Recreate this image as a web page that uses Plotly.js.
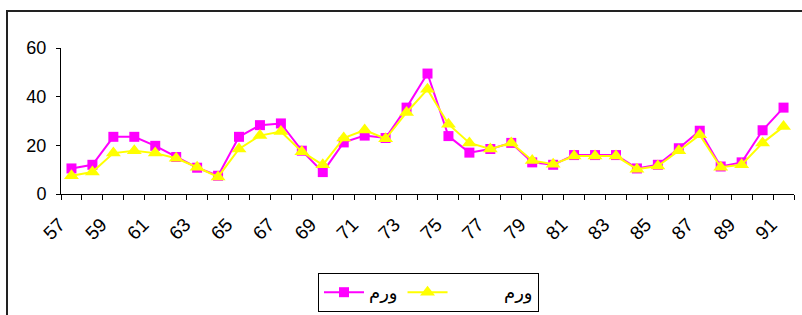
<!DOCTYPE html>
<html><head><meta charset="utf-8">
<script src="https://cdn.plot.ly/plotly-3.0.1.min.js"></script>
<style>
html,body{margin:0;padding:0;background:#fff;}
#wrap{position:relative;width:802px;height:315px;overflow:hidden;}
#chart{position:absolute;left:0;top:0;width:802px;height:315px;}
#frame{position:absolute;left:6px;top:10px;width:900px;height:400px;border:2px solid #222;box-sizing:border-box;pointer-events:none;}
</style></head>
<body>
<div id="wrap"><div id="chart"></div><div id="frame"></div></div>
<script>
const years = [57,58,59,60,61,62,63,64,65,66,67,68,69,70,71,72,73,74,75,76,77,78,79,80,81,82,83,84,85,86,87,88,89,90,91];
const seriesA = [10.5,12,23.5,23.5,19.8,15.2,10.8,7.5,23.5,28.3,29,17.8,9,21.2,24,23,35.5,49.5,23.8,17,18.5,21,13,12,16,16,16,10.5,12,18.8,26,11.3,13,26.2,35.5];
const seriesB = [7.5,9,16.8,17.8,16.8,14.7,11,7,18.5,24,25.7,17.4,12,23,26.3,22.7,33.5,43,28.7,21,18.5,21,13.8,12.2,15.6,15.6,15.6,10.2,11.5,17.8,24.3,11,12,21,27.7];
const nameA = "ورم";
const nameB = "\u00a0\u00a0\u00a0\u00a0\u00a0\u00a0\u00a0\u00a0\u00a0ورم";
const yTicks = [0,20,40,60];

const traces = [
 {x: years, y: seriesA, name: nameA, type:'scatter', mode:'lines+markers',
  line:{color:'#FF00FF', width:2}, marker:{symbol:'square', size:10, color:'#FF00FF'}},
 {x: years, y: seriesB, name: nameB, type:'scatter', mode:'lines+markers',
  line:{color:'#FFFF00', width:2}, marker:{symbol:'triangle-up', size:13, color:'#FFFF00'}}
];
const layout = {
 width:802, height:315,
 margin:{l:61, r:8, t:48, b:121},
 paper_bgcolor:'rgba(0,0,0,0)', plot_bgcolor:'rgba(0,0,0,0)',
 font:{family:'Liberation Sans, Arial, sans-serif', size:18, color:'#000'},
 showlegend:true,
 xaxis:{type:'linear', range:[56.5,91.5], tickmode:'linear', tick0:57, dtick:2,
   ticks:'', tickangle:-45, showgrid:false, zeroline:false, showline:true,
   linecolor:'#000', linewidth:1, automargin:false, tickfont:{size:19},
   ticklabelstandoff:11, ticklabelshift:-12,
   minor:{tick0:56.5, dtick:1, ticks:'outside', ticklen:5, tickcolor:'#000', tickwidth:1, showgrid:false}},
 yaxis:{range:[0,60], tickvals:yTicks, ticks:'outside', ticklen:4, tickcolor:'#000',
   showgrid:false, zeroline:false, showline:true, linecolor:'#000', linewidth:1,
   automargin:false, ticklabelstandoff:6, tickfont:{size:18}},
 legend:{orientation:'h', xref:'container', x:318/802, xanchor:'left',
   yref:'container', y:1-273/315, yanchor:'top',
   bordercolor:'#000', borderwidth:1, bgcolor:'rgba(255,255,255,0)',
   font:{size:18, family:'DejaVu Sans, sans-serif'}, itemwidth:40, tracegroupgap:0}
};
Plotly.newPlot('chart', traces, layout, {displayModeBar:false, staticPlot:true});
</script>
</body></html>
